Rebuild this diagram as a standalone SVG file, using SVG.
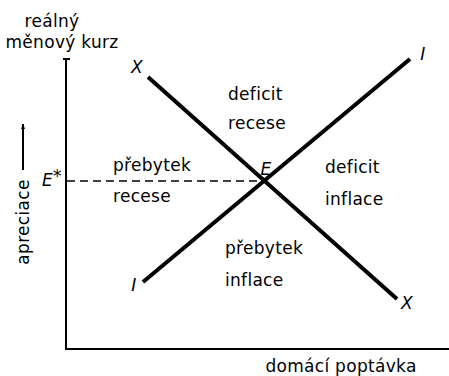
<svg xmlns="http://www.w3.org/2000/svg" width="449" height="376" viewBox="0 0 449 376">
<style>
text{font-family:"DejaVu Sans","Liberation Sans",sans-serif;font-size:17px;fill:#000;letter-spacing:0.3px}
.it{font-style:italic}
.axis{stroke:#000;stroke-width:2;fill:none}
.curve{stroke:#000;stroke-width:4;fill:none}
.dash{stroke:#000;stroke-width:1.5;stroke-dasharray:8 5;fill:none}
</style>
<defs>
<marker id="ah" viewBox="0 0 10 10" refX="9" refY="5" markerWidth="6" markerHeight="8" orient="auto" markerUnits="userSpaceOnUse">
<path d="M0,1.5 L10,5 L0,8.5 Z" fill="#000"/>
</marker>
</defs>
<g id="connectors">
<path class="axis" d="M66,59 V349 H449"/>
<path class="axis" d="M63,59 H70"/>
<path class="dash" d="M67,181 H265"/>
<path class="curve" d="M148,77 L397,299"/>
<path class="curve" d="M143,282 L410,59"/>
<path d="M23,170 V124" stroke="#000" stroke-width="2" marker-end="url(#ah)"/>
</g>
<g id="yaxis-label">
<text x="52" y="27" text-anchor="middle">reálný</text>
<text x="62" y="48" text-anchor="middle">měnový kurz</text>
</g>
<g id="apreciace">
<text transform="translate(29,222) rotate(-90)" text-anchor="middle">apreciace</text>
</g>
<g id="estar">
<text class="it" x="42" y="186">E<tspan dy="-4">*</tspan></text>
</g>
<g id="xaxis-label">
<text x="341" y="372" text-anchor="middle">domácí poptávka</text>
</g>
<g id="curve-labels">
<text class="it" x="137" y="73" text-anchor="middle">X</text>
<text class="it" x="407" y="309" text-anchor="middle">X</text>
<text class="it" x="423" y="60" text-anchor="middle">I</text>
<text class="it" x="134" y="291" text-anchor="middle">I</text>
<text class="it" x="266" y="175" text-anchor="middle">E</text>
</g>
<g id="region-top">
<text x="228" y="100">deficit</text>
<text x="228" y="129">recese</text>
</g>
<g id="region-left">
<text x="113" y="171">přebytek</text>
<text x="113" y="202">recese</text>
</g>
<g id="region-right">
<text x="325" y="173">deficit</text>
<text x="325" y="205">inflace</text>
</g>
<g id="region-bottom">
<text x="225" y="254">přebytek</text>
<text x="225" y="286">inflace</text>
</g>
</svg>
